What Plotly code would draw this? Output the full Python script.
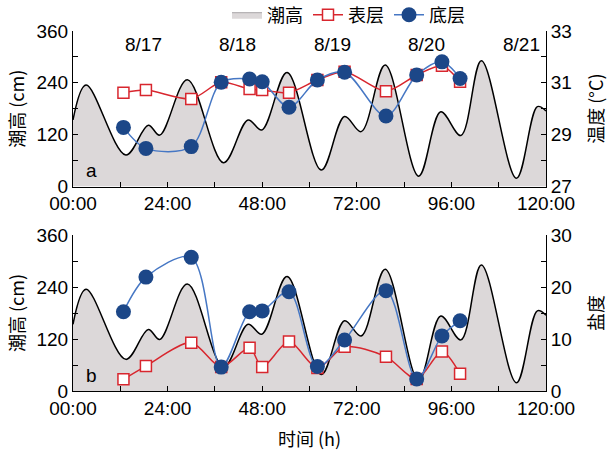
import plotly.graph_objects as go

# ---- data ----
tide_t = [0, 3.3, 13.4, 19.1, 22.0, 29.0, 38.2, 44.4, 47.9, 54.3, 63.0, 68.9, 73.1,
          79.2, 87.7, 93.3, 98.4, 103.6, 112.5, 117.8, 120]
tide_h = [154, 235, 73, 142, 119, 247, 55, 154, 131, 264, 38, 162, 127,
          281, 24, 173, 118, 291, 19, 185, 175]

sample_t = [12.8, 18.5, 30.0, 37.6, 44.8, 48.0, 54.8, 62.0, 68.9, 79.4, 87.2, 93.6, 98.2]
temp_surface = [30.62, 30.72, 30.38, 31.02, 30.76, 30.72, 30.62, 31.11, 31.43, 30.68, 31.30, 31.66, 31.04]
temp_bottom = [29.28, 28.47, 28.54, 31.02, 31.15, 31.04, 30.06, 31.11, 31.41, 29.72, 31.30, 31.81, 31.17]
sal_surface = [2.25, 4.8, 9.3, 4.6, 8.3, 4.6, 9.5, 4.4, 8.5, 6.6, 2.3, 7.6, 3.3]
sal_bottom = [15.25, 21.9, 25.7, 4.6, 15.25, 15.4, 19.1, 4.7, 9.8, 19.3, 2.3, 10.6, 13.5]

x_tickvals = [0, 24, 48, 72, 96, 120]
x_ticktext = ["00:00", "24:00", "48:00", "72:00", "96:00", "120:00"]
day_ticks = [24, 48, 72, 96, 120]
day_labels = ["8/17", "8/18", "8/19", "8/20", "8/21"]

names = ["潮高", "表层", "底层"]

# ---- styles ----
FONT = "Liberation Sans, Arial, sans-serif"
CJK = "Noto Sans CJK SC, sans-serif"
TIDE_FILL = "#dcd8d9"
RED = "#d8262e"
BLUE_LINE = "#4677c4"
BLUE_MK = "#1c4788"

fig = go.Figure()

# legend-only entry for the tide area
fig.add_trace(go.Scatter(x=[None], y=[None], mode="lines", fill="toself", fillcolor=TIDE_FILL,
                         line=dict(color="#a8a6a7", width=1), name=names[0], showlegend=True,
                         xaxis="x", yaxis="y"))

def add_tide(xa, ya):
    fig.add_trace(go.Scatter(x=tide_t, y=tide_h, mode="lines", fill="tozeroy",
                             fillcolor=TIDE_FILL, line=dict(color="black", width=1.5, shape="spline", smoothing=1.0),
                             name=names[0], showlegend=False, xaxis=xa, yaxis=ya))

def add_series(xa, ya, ys, yb, show):
    fig.add_trace(go.Scatter(x=sample_t, y=ys, mode="lines+markers", name=names[1], showlegend=show,
                             line=dict(color=RED, width=1.5, shape="spline", smoothing=0.8),
                             marker=dict(symbol="square", size=11, color="white", line=dict(color=RED, width=1.5)),
                             xaxis=xa, yaxis=ya))
    fig.add_trace(go.Scatter(x=sample_t, y=yb, mode="lines+markers", name=names[2], showlegend=show,
                             line=dict(color=BLUE_LINE, width=1.5, shape="spline", smoothing=0.9),
                             marker=dict(symbol="circle", size=15, color=BLUE_MK),
                             xaxis=xa, yaxis=ya))

add_tide("x", "y")
add_series("x", "y2", temp_surface, temp_bottom, True)
add_tide("x2", "y3")
add_series("x2", "y4", sal_surface, sal_bottom, False)

W, H = 609, 451
ml, mr, mt, mb = 73, 63, 31, 60
ph = H - mt - mb
pw = W - ml - mr
dom_a = [1 - 155.5 / ph, 1]
dom_b = [0, 156 / ph]

tickfont = dict(family=FONT, size=19, color="black")
common_x = dict(range=[0, 120], showline=True, linecolor="black", linewidth=1, mirror=False,
                ticks="inside", ticklen=5, tickcolor="black", showgrid=False, zeroline=False,
                tickvals=x_tickvals, ticktext=x_ticktext, tickfont=tickfont, automargin=False,
                minor=dict(tickvals=[12, 36, 60, 84, 108], ticks="inside", ticklen=5, tickcolor="black"))
top_x = dict(range=[0, 120], side="top", showline=True, linecolor="black", linewidth=1,
             ticks="inside", ticklen=7, tickcolor="black", tickvals=day_ticks, showticklabels=False,
             showgrid=False, zeroline=False, automargin=False)
left_y = dict(range=[0, 360], tickvals=[0, 120, 240, 360], showline=True, linecolor="black", linewidth=1,
              ticks="inside", ticklen=5, tickcolor="black", showgrid=False, zeroline=False, tickfont=tickfont,
              automargin=False,
              minor=dict(tickvals=[60, 180, 300], ticks="inside", ticklen=5, tickcolor="black"))

fig.update_layout(
    width=W, height=H, margin=dict(l=ml, r=mr, t=mt, b=mb, autoexpand=False),
    paper_bgcolor="white", plot_bgcolor="white",
    xaxis=dict(domain=[0, 1], anchor="y", **common_x),
    xaxis3=dict(overlaying="x", anchor="y", **top_x),
    xaxis2=dict(domain=[0, 1], anchor="y3", **common_x),
    xaxis4=dict(overlaying="x2", anchor="y3", **top_x),
    yaxis=dict(domain=dom_a, anchor="x", **left_y),
    yaxis2=dict(overlaying="y", side="right", anchor="x", range=[27, 33], tickvals=[27, 29, 31, 33],
                showline=True, linecolor="black", linewidth=1, ticks="inside", ticklen=5, tickcolor="black",
                showgrid=False, zeroline=False, tickfont=tickfont, automargin=False,
                minor=dict(tickvals=[28, 30, 32], ticks="inside", ticklen=5, tickcolor="black")),
    yaxis3=dict(domain=dom_b, anchor="x2", **left_y),
    yaxis4=dict(overlaying="y3", side="right", anchor="x2", range=[0, 30], tickvals=[0, 10, 20, 30],
                showline=True, linecolor="black", linewidth=1, ticks="inside", ticklen=5, tickcolor="black",
                showgrid=False, zeroline=False, tickfont=tickfont, automargin=False,
                minor=dict(tickvals=[5, 15, 25], ticks="inside", ticklen=5, tickcolor="black")),
    legend=dict(orientation="h", x=470 / W, xanchor="right", y=1 - 15 / H, yanchor="middle",
                xref="container", yref="container",
                font=dict(family=CJK, size=18, color="black"), bgcolor="rgba(0,0,0,0)",
                itemwidth=30, tracegroupgap=0),
    showlegend=True,
)

# date labels
for t, lab in zip(day_ticks, day_labels):
    fig.add_annotation(x=t, y=1, xref="x", yref="y domain", text=lab, showarrow=False,
                       xanchor="right", yanchor="top", xshift=-4, yshift=-1,
                       font=dict(family=FONT, size=19, color="black"))

# panel letters
fig.add_annotation(x=0.04, y=0.1, xref="x domain", yref="y domain", text="a", showarrow=False,
                   xanchor="center", yanchor="middle", font=dict(family=FONT, size=19, color="black"))
fig.add_annotation(x=0.04, y=0.1, xref="x2 domain", yref="y3 domain", text="b", showarrow=False,
                   xanchor="center", yanchor="middle", font=dict(family=FONT, size=19, color="black"))

# axis titles
title_font = dict(family=CJK, size=18, color="black")
ya_mid = (dom_a[0] + dom_a[1]) / 2
yb_mid = (dom_b[0] + dom_b[1]) / 2
fig.add_annotation(x=-57 / pw, y=ya_mid, xref="paper", yref="paper", text="潮高 (cm)",
                   textangle=-90, showarrow=False, xanchor="center", yanchor="middle", font=title_font)
fig.add_annotation(x=-57 / pw, y=yb_mid, xref="paper", yref="paper", text="潮高 (cm)",
                   textangle=-90, showarrow=False, xanchor="center", yanchor="middle", font=title_font)
fig.add_annotation(x=1 + 49 / pw, y=ya_mid, xref="paper", yref="paper", text="温度 (°C)",
                   textangle=-90, showarrow=False, xanchor="center", yanchor="middle", font=title_font)
fig.add_annotation(x=1 + 49 / pw, y=yb_mid, xref="paper", yref="paper", text="盐度",
                   textangle=-90, showarrow=False, xanchor="center", yanchor="middle", font=title_font)
fig.add_annotation(x=0.5, y=-47 / ph, xref="paper", yref="paper", text="时间 (h)", showarrow=False,
                   xanchor="center", yanchor="middle", font=title_font)

fig.write_html("out.html", config={"displayModeBar": False},
               post_script="document.body.style.margin='0';document.body.style.overflow='hidden';")
